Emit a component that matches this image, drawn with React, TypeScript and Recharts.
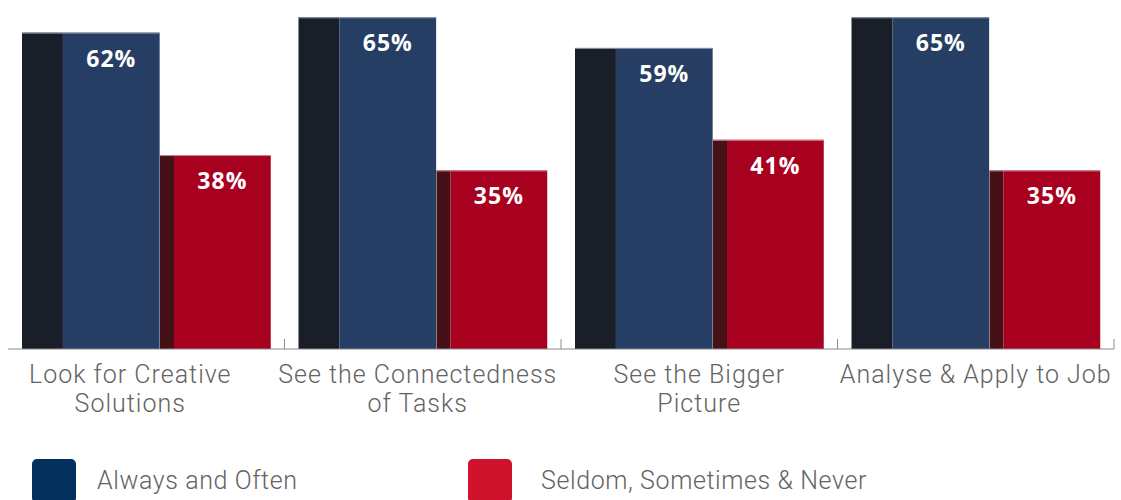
import React from 'react';
import { BarChart, Bar, XAxis, YAxis, LabelList } from 'recharts';

const categories = [
  'Look for Creative\nSolutions',
  'See the Connectedness\nof Tasks',
  'See the Bigger\nPicture',
  'Analyse & Apply to Job',
];
const alwaysOften = [62, 65, 59, 65];
const seldomNever = [38, 35, 41, 35];
const seriesNames = ['Always and Often', 'Seldom, Sometimes & Never'];

const data = categories.map((c, i) => ({
  category: c,
  always: alwaysOften[i],
  seldom: seldomNever[i],
}));

const FONT = 'Roboto, "Open Sans", sans-serif';
const BLUE_FACE = '#263e63';
const BLUE_SIDE = '#1a1e29';
const RED_FACE = '#a8001f';
const RED_SIDE = '#451016';
const LEGEND_BLUE = '#03305d';
const LEGEND_RED = '#d0132d';
const TEXT_GRAY = '#636363';
// small horizontal nudges of the category labels, as in the original layout
const TICK_NUDGE = [-16, -5, 0, 0];

const BlueBar = (props: any) => {
  const { x, y, width, height } = props;
  const side = width * 0.33;
  const face = width * 0.78;
  return (
    <g>
      <rect x={x} y={y} width={side} height={height} fill={BLUE_SIDE} />
      <rect x={x + side} y={y} width={face} height={height} fill={BLUE_FACE} />
      <line x1={x} x2={x + side + face} y1={y + 0.5} y2={y + 0.5} stroke="#8d96a6" strokeWidth={1} />
    </g>
  );
};

const RedBar = (props: any) => {
  const { x, y, width, height } = props;
  const sideStart = x + width * 0.113;
  const side = width * 0.113;
  const face = width * 0.78;
  return (
    <g>
      <rect x={sideStart} y={y} width={side} height={height} fill={RED_SIDE} />
      <rect x={sideStart + side} y={y} width={face} height={height} fill={RED_FACE} />
      <line x1={sideStart} x2={sideStart + side + face} y1={y + 0.5} y2={y + 0.5} stroke="#c98a94" strokeWidth={1} />
    </g>
  );
};

const makeLabel = (faceStartFrac: number) => (props: any) => {
  const { x, y, width, value } = props;
  const cx = x + width * faceStartFrac + (width * 0.78) / 2;
  return (
    <text
      x={cx}
      y={y + 34}
      textAnchor="middle"
      fill="#ffffff"
      fontFamily='"Open Sans", sans-serif'
      fontWeight={700}
      fontSize={23}
      letterSpacing={1}
    >
      {value}%
    </text>
  );
};

const CategoryTick = (props: any) => {
  const { x, y, payload } = props;
  const half = payload && payload.offset != null ? payload.offset : 138.25;
  const idx = payload && payload.index != null ? payload.index : 0;
  const tx = x + (TICK_NUDGE[idx] || 0);
  const lines = String(payload.value).split('\n');
  return (
    <g>
      <line x1={x + half} x2={x + half} y1={y - 10} y2={y} stroke="#8a8a8a" strokeWidth={1} />
      <text
        x={tx}
        y={y + 34}
        textAnchor="middle"
        fill={TEXT_GRAY}
        fontFamily={FONT}
        fontWeight={300}
        fontSize={25}
        letterSpacing={1}
      >
        {lines.map((l, i) => (
          <tspan key={i} x={tx} dy={i === 0 ? 0 : 29}>
            {l}
          </tspan>
        ))}
      </text>
    </g>
  );
};

const legendItems = [
  { name: seriesNames[0], color: LEGEND_BLUE, left: 32, textLeft: 97 },
  { name: seriesNames[1], color: LEGEND_RED, left: 468, textLeft: 541 },
];

export default function App() {
  return (
    <div style={{ position: 'absolute', left: 0, top: 0, width: 1121, height: 500, overflow: 'hidden', background: '#fff' }}>
      <BarChart
        width={1121}
        height={500}
        data={data}
        margin={{ top: 2, right: 7, left: 8, bottom: 91 }}
        barCategoryGap={14}
        barGap={0}
      >
        <YAxis hide domain={[0, 68]} type="number" />
        <XAxis
          dataKey="category"
          interval={0}
          height={60}
          tickSize={0}
          tickMargin={0}
          tickLine={false}
          axisLine={{ stroke: '#8a8a8a', strokeWidth: 1 }}
          tick={<CategoryTick />}
        />
        <Bar dataKey="always" name={seriesNames[0]} shape={<BlueBar />} isAnimationActive={false}>
          <LabelList dataKey="always" content={makeLabel(0.33)} />
        </Bar>
        <Bar dataKey="seldom" name={seriesNames[1]} shape={<RedBar />} isAnimationActive={false}>
          <LabelList dataKey="seldom" content={makeLabel(0.226)} />
        </Bar>
      </BarChart>
      {legendItems.map((it) => (
        <React.Fragment key={it.name}>
          <div
            style={{
              position: 'absolute',
              left: it.left,
              top: 459,
              width: 44,
              height: 44,
              borderRadius: 5,
              background: it.color,
            }}
          />
          <div
            style={{
              position: 'absolute',
              left: it.textLeft,
              top: 465,
              fontFamily: FONT,
              fontWeight: 300,
              fontSize: 25,
              letterSpacing: 0.6,
              lineHeight: '32px',
              color: TEXT_GRAY,
              whiteSpace: 'nowrap',
            }}
          >
            {it.name}
          </div>
        </React.Fragment>
      ))}
    </div>
  );
}
